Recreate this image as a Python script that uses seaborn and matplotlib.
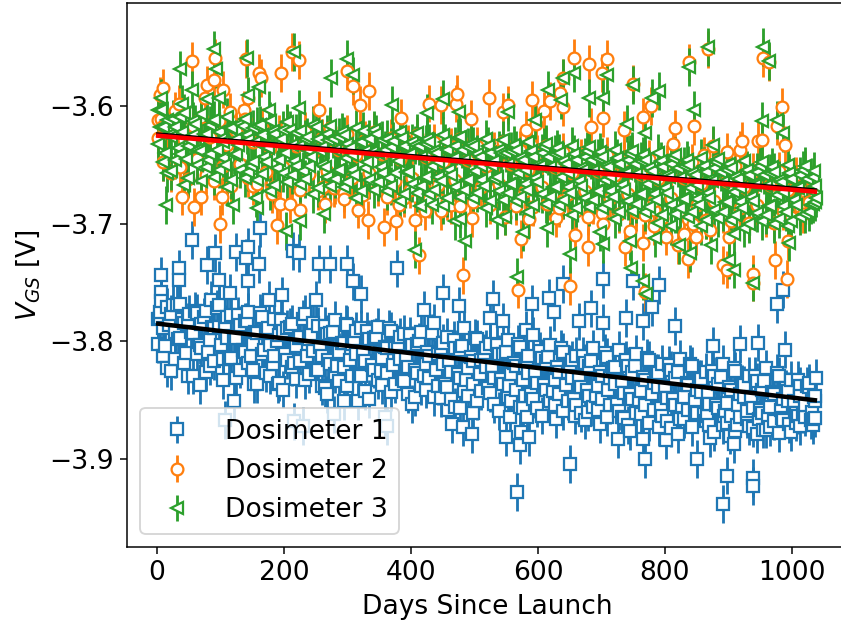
import matplotlib
matplotlib.use("Agg")
import matplotlib.pyplot as plt
import pandas as pd
import seaborn as sns

# days shared by the dense part of each band
band_days = [
    2, 9, 16, 22, 29, 36, 43, 49, 56, 63,
    70, 77, 83, 90, 97, 104, 110, 117, 124, 131,
    138, 144, 151, 158, 165, 172, 178, 185, 192, 199,
    205, 212, 219, 226, 233, 239, 246, 253, 260, 267,
    273, 280, 287, 294, 300, 307, 314, 321, 328, 334,
    341, 348, 355, 362, 368, 375, 382, 389, 395, 402,
    409, 416, 423, 429, 436, 443, 450, 457, 463, 470,
    477, 484, 490, 497, 504, 511, 518, 524, 531, 538,
    545, 552, 558, 565, 572, 579, 585, 592, 599, 606,
    613, 619, 626, 633, 640, 647, 653, 660, 667, 674,
    680, 687, 694, 701, 708, 714, 721, 728, 735, 742,
    748, 755, 762, 769, 775, 782, 789, 796, 803, 809,
    816, 823, 830, 837, 843, 850, 857, 864, 870, 877,
    884, 891, 898, 904, 911, 918, 925, 932, 938, 945,
    952, 959, 965, 972, 979, 986, 993, 999, 1006, 1013,
    1020, 1027, 1033, 1036]
band_days_mid = [
    5, 12, 19, 26, 33, 40, 46, 53, 60, 67,
    74, 80, 87, 94, 101, 107, 114, 121, 128, 135,
    141, 148, 155, 162, 169, 175, 182, 189, 196, 202,
    209, 216, 223, 230, 236, 243, 250, 257, 264, 270,
    277, 284, 291, 297, 304, 311, 318, 325, 331, 338,
    345, 352, 359, 365, 372, 379, 386, 392, 399, 406,
    413, 420, 426, 433, 440, 447, 454, 460, 467, 474,
    481, 487, 494, 501, 508, 515, 521, 528, 535, 542,
    549, 555, 562, 569, 576, 582, 589, 596, 603, 610,
    616, 623, 630, 637, 644, 650, 657, 664, 671, 677,
    684, 691, 698, 705, 711, 718, 725, 732, 739, 745,
    752, 759, 766, 772, 779, 786, 793, 800, 806, 813,
    820, 827, 834, 840, 847, 854, 861, 867, 874, 881,
    888, 895, 901, 908, 915, 922, 929, 935, 942, 949,
    956, 962, 969, 976, 983, 990, 996, 1003, 1010, 1017,
    1023, 1030, 1034, 1037]

# Dosimeter 1
d1_band_a = [
    -3.781, -3.812, -3.771, -3.825, -3.792, -3.768, -3.818, -3.783, -3.829, -3.776,
    -3.806, -3.774, -3.821, -3.789, -3.769, -3.815, -3.797, -3.778, -3.831, -3.786,
    -3.809, -3.775, -3.824, -3.793, -3.779, -3.827, -3.803, -3.781, -3.835, -3.791,
    -3.816, -3.785, -3.832, -3.796, -3.777, -3.828, -3.808, -3.787, -3.838, -3.794,
    -3.819, -3.782, -3.834, -3.801, -3.786, -3.829, -3.811, -3.789, -3.842, -3.798,
    -3.824, -3.788, -3.837, -3.806, -3.791, -3.836, -3.815, -3.794, -3.845, -3.803,
    -3.827, -3.792, -3.841, -3.812, -3.784, -3.838, -3.819, -3.796, -3.849, -3.806,
    -3.831, -3.789, -3.846, -3.817, -3.798, -3.842, -3.822, -3.802, -3.853, -3.811,
    -3.836, -3.799, -3.851, -3.821, -3.805, -3.846, -3.827, -3.795, -3.857, -3.814,
    -3.841, -3.803, -3.854, -3.826, -3.809, -3.851, -3.831, -3.812, -3.861, -3.818,
    -3.846, -3.806, -3.858, -3.829, -3.813, -3.854, -3.836, -3.807, -3.865, -3.821,
    -3.849, -3.811, -3.862, -3.833, -3.816, -3.858, -3.839, -3.819, -3.868, -3.824,
    -3.854, -3.815, -3.866, -3.837, -3.821, -3.861, -3.843, -3.826, -3.871, -3.829,
    -3.857, -3.819, -3.869, -3.841, -3.825, -3.864, -3.847, -3.829, -3.874, -3.834,
    -3.861, -3.823, -3.873, -3.845, -3.829, -3.867, -3.851, -3.833, -3.869, -3.838,
    -3.864, -3.835, -3.871, -3.846]
d1_band_b = [
    -3.802, -3.789, -3.823, -3.777, -3.815, -3.797, -3.784, -3.829, -3.793, -3.811,
    -3.785, -3.826, -3.799, -3.817, -3.788, -3.833, -3.779, -3.814, -3.797, -3.824,
    -3.783, -3.818, -3.802, -3.836, -3.811, -3.791, -3.829, -3.812, -3.795, -3.841,
    -3.789, -3.822, -3.804, -3.817, -3.833, -3.798, -3.784, -3.824, -3.812, -3.845,
    -3.793, -3.828, -3.809, -3.822, -3.838, -3.802, -3.791, -3.829, -3.817, -3.849,
    -3.797, -3.833, -3.814, -3.827, -3.843, -3.806, -3.796, -3.834, -3.822, -3.853,
    -3.802, -3.838, -3.819, -3.831, -3.847, -3.811, -3.801, -3.839, -3.826, -3.856,
    -3.807, -3.842, -3.823, -3.836, -3.851, -3.816, -3.806, -3.844, -3.831, -3.859,
    -3.811, -3.847, -3.828, -3.841, -3.856, -3.821, -3.812, -3.849, -3.835, -3.863,
    -3.817, -3.851, -3.833, -3.845, -3.859, -3.826, -3.816, -3.854, -3.839, -3.867,
    -3.821, -3.856, -3.838, -3.849, -3.864, -3.831, -3.822, -3.859, -3.844, -3.871,
    -3.826, -3.861, -3.842, -3.854, -3.869, -3.835, -3.827, -3.863, -3.848, -3.874,
    -3.831, -3.866, -3.847, -3.858, -3.873, -3.841, -3.832, -3.868, -3.853, -3.877,
    -3.836, -3.871, -3.852, -3.863, -3.876, -3.845, -3.837, -3.872, -3.857, -3.879,
    -3.841, -3.875, -3.856, -3.868, -3.878, -3.849, -3.842, -3.877, -3.861, -3.846,
    -3.854, -3.839, -3.866, -3.851]
d1_band_c = [
    -3.775, -3.804, -3.786, -3.769, -3.798, -3.781, -3.810, -3.792, -3.774, -3.803,
    -3.779, -3.809, -3.788, -3.772, -3.803, -3.785, -3.815, -3.796, -3.778, -3.807,
    -3.783, -3.812, -3.792, -3.776, -3.807, -3.789, -3.819, -3.800, -3.782, -3.811,
    -3.788, -3.818, -3.797, -3.781, -3.812, -3.794, -3.824, -3.805, -3.787, -3.816,
    -3.792, -3.821, -3.801, -3.785, -3.816, -3.798, -3.828, -3.809, -3.791, -3.820,
    -3.796, -3.825, -3.805, -3.789, -3.820, -3.802, -3.832, -3.813, -3.795, -3.824,
    -3.800, -3.829, -3.809, -3.793, -3.824, -3.806, -3.836, -3.817, -3.799, -3.828,
    -3.804, -3.833, -3.813, -3.797, -3.828, -3.810, -3.840, -3.821, -3.803, -3.832,
    -3.809, -3.838, -3.818, -3.802, -3.833, -3.815, -3.845, -3.826, -3.808, -3.837,
    -3.813, -3.842, -3.822, -3.806, -3.837, -3.819, -3.849, -3.830, -3.812, -3.841,
    -3.817, -3.846, -3.826, -3.810, -3.841, -3.823, -3.853, -3.834, -3.816, -3.845,
    -3.821, -3.850, -3.830, -3.814, -3.845, -3.827, -3.857, -3.838, -3.820, -3.849,
    -3.826, -3.855, -3.835, -3.819, -3.850, -3.832, -3.862, -3.843, -3.825, -3.854,
    -3.830, -3.859, -3.839, -3.823, -3.854, -3.836, -3.866, -3.847, -3.829, -3.858,
    -3.834, -3.863, -3.843, -3.827, -3.858, -3.840, -3.870, -3.851, -3.833, -3.862,
    -3.838, -3.867, -3.847, -3.831]
d1_extra_days = [
    55, 163, 91, 79, 124, 144, 140, 160, 214, 224, 255, 273, 300, 378, 6, 35, 35, 98, 144, 308,
    115, 6, 197, 451, 321, 475, 421, 177, 251, 85, 7, 31, 51, 4, 121, 68, 153, 190, 265, 294,
    317, 406, 448, 459, 477, 498, 464, 482, 496, 107, 215, 230, 279, 362, 359,
    529, 525, 545, 590, 618, 640, 625, 581, 683, 703, 703, 664, 739, 750, 790, 779, 766, 816,
    977, 986, 876, 918, 947, 989, 567, 650, 769, 850, 898, 892, 938, 939, 572, 550, 586, 574,
    577, 556, 582, 628, 658, 679, 698, 732, 726, 745, 766, 791, 801, 821, 871, 902, 908, 955,
    914, 948, 1013, 985, 1031, 1036, 1010, 929, 893, 866, 847]
d1_extra_vgs = [
    -3.714, -3.704, -3.725, -3.735, -3.724, -3.720, -3.729, -3.734, -3.723, -3.725,
    -3.734, -3.734, -3.734, -3.738, -3.744, -3.738, -3.748, -3.748, -3.749, -3.749,
    -3.759, -3.758, -3.761, -3.759, -3.760, -3.770, -3.773, -3.765, -3.765, -3.765,
    -3.766, -3.769, -3.777, -3.780, -3.851, -3.837, -3.836, -3.836, -3.840, -3.851,
    -3.851, -3.847, -3.848, -3.858, -3.857, -3.861, -3.870, -3.873, -3.879, -3.867,
    -3.868, -3.872, -3.862, -3.872, -3.864,
    -3.764, -3.780, -3.783, -3.768, -3.763, -3.751, -3.775, -3.790, -3.772, -3.747,
    -3.784, -3.783, -3.780, -3.749, -3.752, -3.771, -3.783, -3.787, -3.768, -3.756,
    -3.804, -3.802, -3.801, -3.807, -3.928, -3.904, -3.900, -3.900, -3.914, -3.938,
    -3.916, -3.923, -3.888, -3.881, -3.881, -3.877, -3.857, -3.864, -3.864, -3.866,
    -3.863, -3.860, -3.870, -3.864, -3.883, -3.876, -3.883, -3.873, -3.884, -3.879,
    -3.882, -3.880, -3.887, -3.875, -3.871, -3.866, -3.872, -3.865, -3.860, -3.865,
    -3.863, -3.859, -3.863, -3.863, -3.862]

# Dosimeter 2
d2_band = [
    -3.612, -3.648, -3.621, -3.657, -3.604, -3.652, -3.629, -3.662, -3.617, -3.645,
    -3.609, -3.659, -3.626, -3.664, -3.613, -3.651, -3.633, -3.668, -3.621, -3.649,
    -3.611, -3.661, -3.631, -3.666, -3.618, -3.656, -3.636, -3.669, -3.624, -3.652,
    -3.616, -3.664, -3.634, -3.671, -3.621, -3.658, -3.639, -3.672, -3.627, -3.655,
    -3.619, -3.667, -3.637, -3.674, -3.624, -3.661, -3.642, -3.675, -3.629, -3.657,
    -3.622, -3.669, -3.641, -3.677, -3.627, -3.664, -3.645, -3.678, -3.632, -3.661,
    -3.625, -3.672, -3.643, -3.679, -3.631, -3.667, -3.648, -3.681, -3.635, -3.663,
    -3.628, -3.675, -3.646, -3.682, -3.634, -3.669, -3.651, -3.684, -3.638, -3.666,
    -3.631, -3.678, -3.649, -3.685, -3.637, -3.672, -3.654, -3.686, -3.641, -3.669,
    -3.634, -3.681, -3.652, -3.687, -3.639, -3.675, -3.657, -3.689, -3.644, -3.672,
    -3.637, -3.684, -3.655, -3.691, -3.642, -3.678, -3.659, -3.692, -3.647, -3.675,
    -3.641, -3.686, -3.658, -3.693, -3.645, -3.681, -3.662, -3.695, -3.649, -3.678,
    -3.644, -3.689, -3.661, -3.696, -3.648, -3.684, -3.666, -3.697, -3.653, -3.681,
    -3.647, -3.692, -3.664, -3.698, -3.651, -3.687, -3.669, -3.699, -3.656, -3.684,
    -3.651, -3.695, -3.667, -3.699, -3.655, -3.689, -3.671, -3.694, -3.659, -3.686,
    -3.654, -3.682, -3.666, -3.675]
d2_extra_days = [
    9, 5, 7, 10, 2, 55, 92, 140, 160, 164, 196, 224, 213, 299, 308, 334, 90, 79, 104, 76,
    144, 34, 115, 137, 255, 319, 429, 472, 471, 448, 385, 494, 39, 59, 70, 103, 99, 152, 181, 189,
    226, 210, 194, 262, 279, 265, 294, 316, 333, 357, 376, 406, 381, 422, 448, 463, 477, 493, 496,
    412, 482, 446, 325, 398, 438,
    523, 553, 545, 590, 581, 597, 610, 619, 635, 639, 639, 656, 680, 709, 701, 703, 683, 749, 735,
    766, 778, 816, 838, 868, 846, 955, 963, 985, 976, 989, 952, 922, 947, 918, 898, 861, 876, 813,
    1034, 1017, 900, 871, 892, 898, 844, 849, 830, 837, 821, 802, 783, 782, 766, 755, 745, 737, 702,
    679, 659, 678, 640, 629, 614, 586, 574, 548, 650, 568, 769, 938, 939, 973, 992, 994]
d2_extra_vgs = [
    -3.585, -3.591, -3.611, -3.617, -3.627, -3.562, -3.559, -3.560, -3.572, -3.576,
    -3.572, -3.561, -3.554, -3.570, -3.583, -3.587, -3.578, -3.582, -3.586, -3.593,
    -3.593, -3.598, -3.605, -3.603, -3.603, -3.599, -3.598, -3.590, -3.598, -3.599,
    -3.610, -3.611, -3.677, -3.686, -3.677, -3.677, -3.700, -3.668, -3.675, -3.701,
    -3.688, -3.683, -3.683, -3.669, -3.670, -3.683, -3.679, -3.688, -3.697, -3.703,
    -3.698, -3.697, -3.684, -3.689, -3.689, -3.684, -3.685, -3.678, -3.695,
    -3.727, -3.744, -3.680, -3.676, -3.671, -3.666,
    -3.593, -3.599, -3.605, -3.595, -3.620, -3.615, -3.604, -3.596, -3.589, -3.601,
    -3.576, -3.559, -3.564, -3.560, -3.572, -3.610, -3.618, -3.581, -3.620,
    -3.609, -3.600, -3.619, -3.563, -3.552, -3.617, -3.559, -3.563, -3.601, -3.617,
    -3.633, -3.629, -3.630, -3.630, -3.637, -3.639, -3.642, -3.634, -3.632,
    -3.666, -3.692, -3.711, -3.705, -3.735, -3.739, -3.700, -3.711, -3.709, -3.730,
    -3.718, -3.711, -3.702, -3.688, -3.716, -3.690, -3.706, -3.720, -3.700,
    -3.720, -3.710, -3.694, -3.680, -3.695, -3.683, -3.696, -3.713, -3.694,
    -3.753, -3.756, -3.758, -3.743, -3.750, -3.731, -3.747, -3.715]

# Dosimeter 3
d3_band_a = [
    -3.603, -3.648, -3.612, -3.655, -3.618, -3.641, -3.606, -3.661, -3.625, -3.650,
    -3.607, -3.652, -3.616, -3.660, -3.622, -3.644, -3.609, -3.663, -3.628, -3.654,
    -3.611, -3.656, -3.619, -3.663, -3.625, -3.648, -3.613, -3.667, -3.632, -3.657,
    -3.614, -3.659, -3.623, -3.666, -3.628, -3.651, -3.616, -3.670, -3.635, -3.660,
    -3.617, -3.662, -3.626, -3.669, -3.632, -3.654, -3.619, -3.672, -3.638, -3.663,
    -3.620, -3.665, -3.629, -3.672, -3.635, -3.657, -3.622, -3.675, -3.641, -3.666,
    -3.623, -3.668, -3.632, -3.675, -3.638, -3.660, -3.625, -3.678, -3.644, -3.669,
    -3.626, -3.671, -3.635, -3.678, -3.641, -3.663, -3.628, -3.681, -3.647, -3.672,
    -3.629, -3.674, -3.638, -3.681, -3.644, -3.666, -3.631, -3.684, -3.650, -3.675,
    -3.632, -3.677, -3.641, -3.684, -3.647, -3.669, -3.634, -3.687, -3.653, -3.678,
    -3.635, -3.680, -3.644, -3.687, -3.650, -3.672, -3.637, -3.690, -3.656, -3.681,
    -3.638, -3.683, -3.647, -3.690, -3.653, -3.675, -3.640, -3.693, -3.659, -3.684,
    -3.642, -3.687, -3.651, -3.694, -3.657, -3.679, -3.644, -3.697, -3.663, -3.688,
    -3.645, -3.690, -3.654, -3.697, -3.660, -3.682, -3.647, -3.700, -3.666, -3.691,
    -3.648, -3.693, -3.657, -3.700, -3.663, -3.685, -3.650, -3.698, -3.669, -3.694,
    -3.651, -3.690, -3.660, -3.682]
d3_band_b = [
    -3.632, -3.618, -3.657, -3.626, -3.646, -3.609, -3.667, -3.634, -3.613, -3.637,
    -3.664, -3.624, -3.641, -3.612, -3.654, -3.631, -3.669, -3.619, -3.641, -3.615,
    -3.661, -3.629, -3.648, -3.617, -3.658, -3.635, -3.672, -3.624, -3.646, -3.620,
    -3.665, -3.633, -3.651, -3.621, -3.662, -3.638, -3.675, -3.628, -3.650, -3.624,
    -3.668, -3.637, -3.654, -3.625, -3.665, -3.642, -3.678, -3.631, -3.653, -3.628,
    -3.671, -3.640, -3.657, -3.628, -3.668, -3.645, -3.681, -3.634, -3.656, -3.631,
    -3.674, -3.643, -3.660, -3.631, -3.671, -3.648, -3.684, -3.637, -3.659, -3.634,
    -3.677, -3.646, -3.663, -3.634, -3.674, -3.651, -3.687, -3.640, -3.662, -3.637,
    -3.680, -3.649, -3.666, -3.637, -3.677, -3.654, -3.690, -3.643, -3.665, -3.640,
    -3.683, -3.652, -3.669, -3.640, -3.680, -3.657, -3.693, -3.646, -3.668, -3.643,
    -3.686, -3.655, -3.672, -3.643, -3.683, -3.660, -3.696, -3.649, -3.671, -3.646,
    -3.689, -3.658, -3.675, -3.646, -3.686, -3.663, -3.699, -3.652, -3.674, -3.649,
    -3.692, -3.661, -3.679, -3.650, -3.690, -3.667, -3.702, -3.656, -3.678, -3.653,
    -3.695, -3.665, -3.682, -3.653, -3.693, -3.670, -3.704, -3.659, -3.681, -3.656,
    -3.698, -3.668, -3.685, -3.656, -3.696, -3.673, -3.702, -3.662, -3.684, -3.659,
    -3.692, -3.671, -3.683, -3.668]
d3_band_c = [
    -3.618, -3.640, -3.625, -3.611, -3.636, -3.622, -3.645, -3.630, -3.615, -3.638,
    -3.624, -3.646, -3.613, -3.637, -3.628, -3.650, -3.619, -3.642, -3.633, -3.617,
    -3.625, -3.651, -3.631, -3.616, -3.643, -3.636, -3.621, -3.653, -3.628, -3.640,
    -3.620, -3.647, -3.634, -3.655, -3.626, -3.643, -3.618, -3.638, -3.652, -3.629,
    -3.628, -3.655, -3.622, -3.644, -3.636, -3.659, -3.631, -3.621, -3.648, -3.639,
    -3.624, -3.652, -3.637, -3.661, -3.630, -3.647, -3.627, -3.656, -3.641, -3.633,
    -3.634, -3.661, -3.628, -3.651, -3.640, -3.664, -3.631, -3.654, -3.644, -3.627,
    -3.637, -3.663, -3.632, -3.655, -3.643, -3.668, -3.634, -3.651, -3.660, -3.640,
    -3.640, -3.666, -3.633, -3.657, -3.646, -3.671, -3.638, -3.661, -3.651, -3.635,
    -3.643, -3.669, -3.636, -3.660, -3.649, -3.674, -3.641, -3.664, -3.654, -3.638,
    -3.646, -3.672, -3.639, -3.663, -3.652, -3.677, -3.644, -3.667, -3.657, -3.641,
    -3.649, -3.675, -3.642, -3.666, -3.655, -3.680, -3.647, -3.670, -3.660, -3.644,
    -3.653, -3.679, -3.646, -3.670, -3.659, -3.684, -3.651, -3.674, -3.664, -3.648,
    -3.656, -3.682, -3.649, -3.673, -3.662, -3.687, -3.654, -3.677, -3.667, -3.651,
    -3.659, -3.685, -3.652, -3.676, -3.665, -3.690, -3.657, -3.680, -3.670, -3.654,
    -3.662, -3.684, -3.655, -3.678]
d3_extra_days = [
    90, 141, 215, 37, 93, 299, 274, 309, 55, 160, 144, 79, 98, 6, 7, 39, 451, 370, 425, 475, 224, 177,
    15, 120, 157, 203, 225, 263, 406, 414, 469, 485, 477, 433, 156,
    868, 955, 964, 838, 709, 657, 640, 616, 637, 681, 703, 750, 790, 779, 846, 952, 976, 595, 553, 740,
    769, 986, 876, 536, 548, 577, 614, 697, 703, 651, 745, 784, 822, 840, 872, 908, 996, 900, 909, 746,
    567, 766, 770, 938, 810]
d3_extra_vgs = [
    -3.552, -3.559, -3.554, -3.569, -3.569, -3.560, -3.576, -3.574, -3.586, -3.584, -3.591,
    -3.594, -3.593, -3.593, -3.603, -3.598, -3.594, -3.599, -3.606, -3.605, -3.602, -3.603,
    -3.684, -3.684, -3.687, -3.706, -3.698, -3.692, -3.722, -3.685, -3.698, -3.715, -3.696, -3.684, -3.678,
    -3.550, -3.550, -3.562, -3.567, -3.574, -3.572, -3.576, -3.586, -3.595, -3.593, -3.593,
    -3.582, -3.587, -3.593, -3.603, -3.613, -3.612, -3.612, -3.605, -3.615,
    -3.623, -3.623, -3.633, -3.697, -3.694, -3.707, -3.704, -3.707, -3.717, -3.726, -3.715,
    -3.712, -3.718, -3.725, -3.718, -3.709, -3.716, -3.731, -3.739, -3.738,
    -3.745, -3.749, -3.760, -3.750, -3.702]

vgs_err = 0.016

# fit lines
fit_days = [2, 1036]
fit_1 = [-3.785, -3.850]
fit_2_black = [-3.6243, -3.6718]
fit_2_red = [-3.6253, -3.6728]

xticks = [0, 200, 400, 600, 800, 1000]
yticks = [-3.6, -3.7, -3.8, -3.9]

colors = sns.color_palette("tab10")

df1 = pd.DataFrame({"day": band_days + band_days + band_days_mid + d1_extra_days,
                    "vgs": d1_band_a + d1_band_b + d1_band_c + d1_extra_vgs}).sort_values("day")
df2 = pd.DataFrame({"day": band_days + d2_extra_days,
                    "vgs": d2_band + d2_extra_vgs}).sort_values("day")
df3 = pd.DataFrame({"day": band_days + band_days + band_days_mid + d3_extra_days,
                    "vgs": d3_band_a + d3_band_b + d3_band_c + d3_extra_vgs}).sort_values("day")

plt.rcParams["font.size"] = 14.15
fig, ax = plt.subplots(figsize=(841 / 135, 625 / 135), dpi=135)
# right spine falls just outside the picture, as in the original crop
fig.subplots_adjust(left=127 / 841, right=847 / 841, top=1 - 3 / 625, bottom=1 - 547 / 625)

series = [(df1, "s", "Dosimeter 1"), (df2, "o", "Dosimeter 2"), (df3, "<", "Dosimeter 3")]
for i, (df, marker, name) in enumerate(series):
    ax.errorbar(df["day"], df["vgs"], yerr=vgs_err, fmt=marker, color=colors[i],
                mfc="w", ms=6.3, mew=1.2, label=name)

sns.lineplot(x=fit_days, y=fit_1, color="k", lw=2.4, zorder=5, ax=ax)
sns.lineplot(x=fit_days, y=fit_2_black, color="k", lw=2.4, zorder=5, ax=ax)
sns.lineplot(x=fit_days, y=fit_2_red, color="r", lw=2.4, zorder=6, ax=ax)

ax.set_xlim(-47.2, 1086.6)
ax.set_ylim(-3.9747, -3.5125)
ax.set_xticks(xticks)
ax.set_yticks(yticks)
ax.set_xlabel("Days Since Launch")
ax.set_ylabel("$V_{GS}$ [V]")
ax.legend(loc="lower left")

fig.savefig("out.png", dpi=135)
